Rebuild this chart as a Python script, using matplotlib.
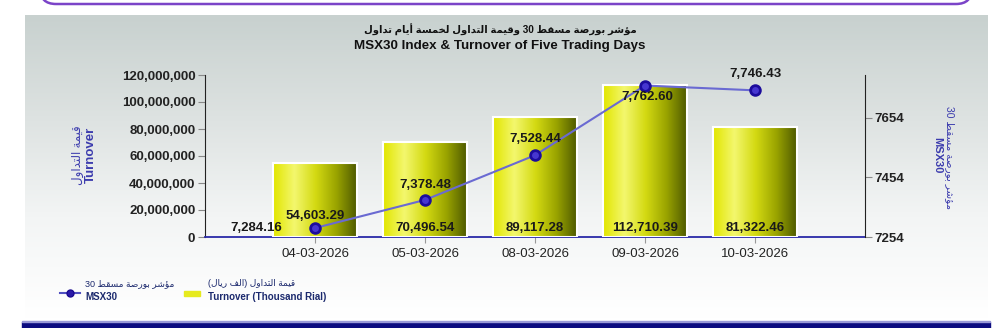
import re
import numpy as np
import matplotlib
matplotlib.use('Agg')
import matplotlib.pyplot as plt
from matplotlib.colors import LinearSegmentedColormap
from matplotlib.patches import FancyBboxPatch, Rectangle
from matplotlib.ticker import FuncFormatter

# data
dates = ['04-03-2026', '05-03-2026', '08-03-2026', '09-03-2026', '10-03-2026']
turnover = [54603.29, 70496.54, 89117.28, 112710.39, 81322.46]   # thousand rial
msx30 = [7284.16, 7378.48, 7528.44, 7762.60, 7746.43]
left_ticks = [0, 20000000, 40000000, 60000000, 80000000, 100000000, 120000000]
right_ticks = [7254, 7454, 7654]

title_ar = 'مؤشر بورصة مسقط 30 وقيمة التداول لخمسة أيام تداول'
title_en = 'MSX30 Index & Turnover of Five Trading Days'
left_ar = 'قيمة التداول'
right_ar = 'مؤشر بورصة مسقط 30'
legend_ar_bar = 'قيمة التداول (الف ريال)'

# simple arabic shaping (presentation forms + visual order)
DUAL = {'ب': 0xFE8F, 'ت': 0xFE95, 'ث': 0xFE99, 'ج': 0xFE9D, 'ح': 0xFEA1, 'خ': 0xFEA5,
        'س': 0xFEB1, 'ش': 0xFEB5, 'ص': 0xFEB9, 'ض': 0xFEBD, 'ط': 0xFEC1, 'ظ': 0xFEC5,
        'ع': 0xFEC9, 'غ': 0xFECD, 'ف': 0xFED1, 'ق': 0xFED5, 'ك': 0xFED9, 'ل': 0xFEDD,
        'م': 0xFEE1, 'ن': 0xFEE5, 'ه': 0xFEE9, 'ي': 0xFEF1}
RIGHT = {'ا': 0xFE8D, 'أ': 0xFE83, 'ؤ': 0xFE85, 'ة': 0xFE93, 'د': 0xFEA9, 'ذ': 0xFEAB,
         'ر': 0xFEAD, 'ز': 0xFEAF, 'و': 0xFEED, 'ى': 0xFEEF}


def ar(text):
    out = []
    for i, ch in enumerate(text):
        if ch not in DUAL and ch not in RIGHT:
            out.append(ch)
            continue
        prev = text[i - 1] if i > 0 else ''
        nxt = text[i + 1] if i + 1 < len(text) else ''
        jp = prev in DUAL
        jn = ch in DUAL and (nxt in DUAL or nxt in RIGHT)
        base = DUAL.get(ch, RIGHT.get(ch))
        off = 3 if (jp and jn) else 1 if jp else 2 if jn else 0
        out.append(chr(base + off))
    tokens = re.findall(r'[0-9]+|.', ''.join(out))
    vis = ''.join(reversed(tokens))
    return vis.translate(str.maketrans('()', ')('))


FONT = ['Liberation Sans', 'DejaVu Sans']
NARROW = ['Liberation Sans Narrow', 'Liberation Sans', 'DejaVu Sans']
plt.rcParams['font.family'] = FONT

fig = plt.figure(figsize=(10, 3.28), dpi=100)
fig.patch.set_facecolor('white')

# background decorations in pixel coords
bg = fig.add_axes([0, 0, 1, 1], zorder=-5)
bg.set_xlim(0, 1000)
bg.set_ylim(328, 0)
bg.axis('off')
grad = LinearSegmentedColormap.from_list('bg', ['#c8d1cf', '#dde2e1', '#f3f5f5', '#ffffff'])
bg.imshow(np.linspace(0, 1, 200).reshape(-1, 1), cmap=grad, aspect='auto',
          extent=(25, 988, 318, 15), interpolation='bicubic')
bg.add_patch(FancyBboxPatch((40, -60), 932, 64, boxstyle='round,pad=0,rounding_size=16',
                            fc='white', ec='#7b44c8', lw=1.8))
bg.add_patch(Rectangle((22, 322), 968, 8, color='#0c0c80'))
bg.add_patch(Rectangle((22, 320.5), 968, 1.5, color='#9a9ad8'))
bg.set_xlim(0, 1000)
bg.set_ylim(328, 0)

# titles
fig.text(0.5, 1 - 30 / 328, ar(title_ar), ha='center', va='center', fontsize=7.2,
         fontweight='bold', family=FONT, color='#111111')
fig.text(0.5, 1 - 46 / 328, title_en, ha='center', va='center', fontsize=9.6,
         fontweight='bold', family=NARROW, color='#111111')

ax = fig.add_axes([0.205, 1 - 237 / 328, 0.66, 162 / 328])
ax.patch.set_alpha(0)
x = np.arange(len(dates))
heights = [v * 1000 for v in turnover]
bars = ax.bar(x, heights, width=0.77, color='none', edgecolor='white', linewidth=1.5, zorder=3)
bar_cmap = LinearSegmentedColormap.from_list(
    'bar', ['#e2e600', '#f3f76e', '#d4da12', '#9aa400', '#4c5800'], N=256)
hgrad = np.linspace(0, 1, 100).reshape(1, -1)
for b in bars:
    x0, w, h = b.get_x(), b.get_width(), b.get_height()
    im = ax.imshow(hgrad, cmap=bar_cmap, aspect='auto', extent=(x0, x0 + w, 0, h),
                   zorder=2, interpolation='bicubic')
    im.set_clip_path(b)

for i, v in enumerate(turnover):
    off = 15 if i == 0 else 6.5
    ax.annotate(f'{v:,.2f}', (i, 0), xytext=(0, off), textcoords='offset points',
                ha='center', va='center', fontsize=9.5, fontweight='bold', color='#1a1a1a',
                zorder=6)

ax.set_xlim(-1, 5)
ax.set_ylim(0, 120000000)
ax.set_yticks(left_ticks)
ax.yaxis.set_major_formatter(FuncFormatter(lambda v, p: f'{v:,.0f}'))
ax.set_xticks(x)
ax.set_xticklabels(dates, fontsize=9.5, color='#222222')
for t in ax.get_yticklabels():
    t.set_fontweight('bold')
    t.set_fontsize(9.5)
    t.set_color('#222222')
ax.tick_params(axis='y', length=5, color='#888888', pad=2)
ax.tick_params(axis='x', length=4, color='#999999', pad=4)
ax.spines['top'].set_visible(False)
ax.spines['right'].set_visible(False)
ax.spines['left'].set_color('#222222')
ax.spines['bottom'].set_color('#2a2aa8')
ax.spines['bottom'].set_linewidth(1.3)

ax2 = ax.twinx()
ax2.plot(x, msx30, color='#6a6ad2', lw=1.5, marker='o', ms=7, mfc='#4636d0',
         mec='#1c0c9c', mew=2, zorder=5)
ax2.set_ylim(7254, 7798)
ax2.set_yticks(right_ticks)
for t in ax2.get_yticklabels():
    t.set_fontweight('bold')
    t.set_fontsize(9.5)
    t.set_color('#222222')
ax2.tick_params(axis='y', length=5, color='#888888', pad=2)
for s in ['top', 'left', 'bottom']:
    ax2.spines[s].set_visible(False)
ax2.spines['right'].set_color('#222222')

idx_offsets = [(-24, 0), (0, 11), (0, 11.5), (2, -8), (0, 11.5)]
idx_ha = ['right', 'center', 'center', 'center', 'center']
for i, v in enumerate(msx30):
    ax2.annotate(f'{v:,.2f}', (i, v), xytext=idx_offsets[i], textcoords='offset points',
                 ha=idx_ha[i], va='center', fontsize=9.5, fontweight='bold', color='#1a1a1a',
                 zorder=6)

# axis titles
lab_c = '#3c3cae'
fig.text(0.078, 1 - 155 / 328, ar(left_ar), rotation=90, ha='center', va='center',
         fontsize=8.5, color=lab_c, family=FONT)
fig.text(0.091, 1 - 155 / 328, 'Turnover', rotation=90, ha='center', va='center',
         fontsize=9.5, fontweight='bold', color=lab_c)
fig.text(0.950, 1 - 157 / 328, ar(right_ar), rotation=270, ha='center', va='center',
         fontsize=7.5, color=lab_c, family=FONT)
fig.text(0.937, 1 - 155 / 328, 'MSX30', rotation=270, ha='center', va='center',
         fontsize=8, fontweight='bold', color=lab_c)

# legend
bg.plot([60, 80], [293, 293], color='#5050c0', lw=1.5)
bg.plot([70], [293], marker='o', ms=5, mfc='#2a1aa8', mec='#1a0a90')
bg.add_patch(Rectangle((184, 291), 16, 5, color='#e6ea1e'))
leg_c = '#1c2a6e'
fig.text(0.085, 1 - 284 / 328, ar(right_ar), ha='left', va='center', fontsize=6.5,
         color=leg_c, family=FONT)
fig.text(0.085, 1 - 297 / 328, 'MSX30', ha='left', va='center', fontsize=7,
         fontweight='bold', color=leg_c)
fig.text(0.208, 1 - 284 / 328, ar(legend_ar_bar), ha='left', va='center', fontsize=6.5,
         color=leg_c, family=FONT)
fig.text(0.208, 1 - 297 / 328, 'Turnover (Thousand Rial)', ha='left', va='center',
         fontsize=7, fontweight='bold', color=leg_c)

fig.savefig('out.png', dpi=100)
